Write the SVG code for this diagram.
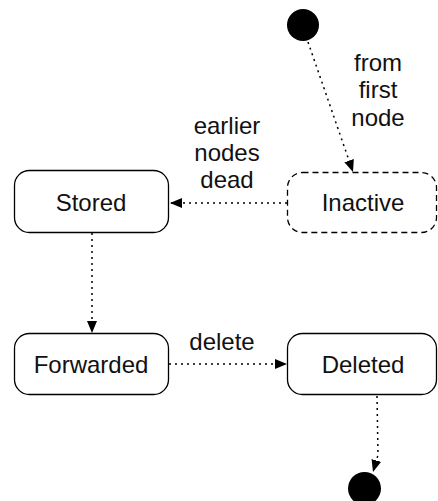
<svg xmlns="http://www.w3.org/2000/svg" width="438" height="501" viewBox="0 0 438 501">
<style>
.box{fill:#fff;stroke:#000;stroke-width:1.3}
.dashed{stroke-dasharray:6 4}
.lbl{font-family:"Liberation Sans",Arial,sans-serif;font-size:24px;fill:#111;text-anchor:middle}
.edge{fill:none;stroke:#000;stroke-width:1.5;stroke-dasharray:2 4}
.dot{fill:#000}
</style>
<defs>
<marker id="ah" viewBox="0 0 12 10" refX="12" refY="5" markerWidth="12" markerHeight="10" markerUnits="userSpaceOnUse" orient="auto">
<path d="M0,0 L12,5 L0,10 Z" fill="#000"/>
</marker>
</defs>
<rect width="438" height="501" fill="#fff"/>
<g id="start"><circle class="dot" cx="303" cy="25" r="16"/></g>
<g id="inactive"><rect class="box dashed" x="287.5" y="172.5" width="149" height="60" rx="15"/><text class="lbl" x="363" y="211">Inactive</text></g>
<g id="stored"><rect class="box" x="14.5" y="170.5" width="154" height="62" rx="15"/><text class="lbl" x="91" y="211">Stored</text></g>
<g id="forwarded"><rect class="box" x="14.5" y="333.5" width="154" height="61" rx="15"/><text class="lbl" x="91" y="373">Forwarded</text></g>
<g id="deleted"><rect class="box" x="287.5" y="333.5" width="149" height="61" rx="15"/><text class="lbl" x="363" y="373">Deleted</text></g>
<g id="end"><circle class="dot" cx="364.5" cy="488.5" r="16.5"/></g>
<g id="connectors">
<path class="edge" d="M308,42 L353,172" marker-end="url(#ah)"/>
<path class="edge" d="M287,203 L170,203" marker-end="url(#ah)"/>
<path class="edge" d="M92,233 L92,333" marker-end="url(#ah)"/>
<path class="edge" d="M169,364 L287,364" marker-end="url(#ah)"/>
<path class="edge" d="M377,396 L378,455 L373,472" marker-end="url(#ah)"/>
</g>
<g id="labels">
<text class="lbl" x="378" y="71">from</text>
<text class="lbl" x="378" y="98">first</text>
<text class="lbl" x="378" y="126">node</text>
<text class="lbl" x="227" y="134">earlier</text>
<text class="lbl" x="227" y="161">nodes</text>
<text class="lbl" x="227" y="188">dead</text>
<text class="lbl" x="222" y="350">delete</text>
</g>
</svg>
